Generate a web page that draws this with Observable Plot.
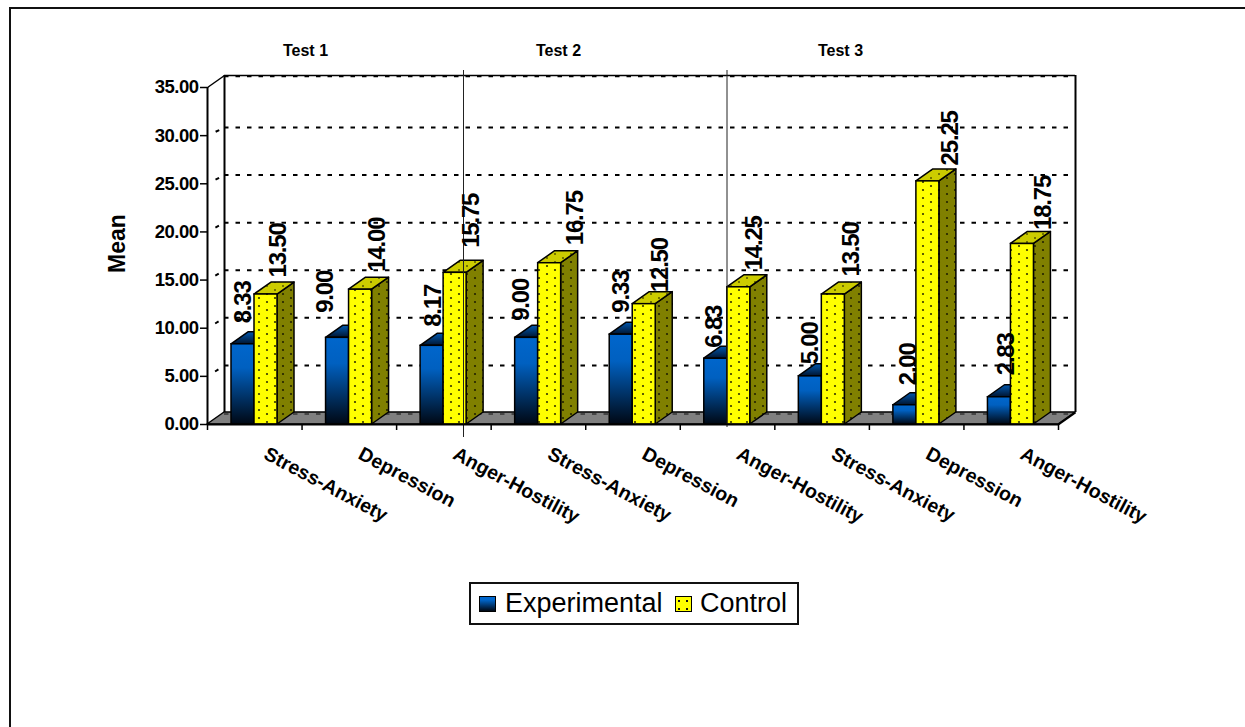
<!DOCTYPE html>
<html>
<head>
<meta charset="utf-8">
<script src="https://cdn.jsdelivr.net/npm/d3@7"></script>
<script src="https://cdn.jsdelivr.net/npm/@observablehq/plot@0.6"></script>
<style>
  html, body { margin: 0; padding: 0; background: #fff; }
  #page { position: relative; width: 1245px; height: 727px; overflow: hidden; font-family: "Liberation Sans", Arial, sans-serif; }
  #frame { position: absolute; left: 9px; top: 7px; right: -4px; bottom: -4px; border-left: 2px solid #111; border-top: 2px solid #111; }
  #chart { position: absolute; left: 0; top: 0; }
  #chart svg { overflow: visible; background: none; }
  #chart .value-label text { letter-spacing: -1.2px; }
  #chart .y-axis text { letter-spacing: -0.5px; }
  #legend { position: absolute; left: 469px; top: 582px; width: 326px; height: 39px; border: 2px solid #111; background: #fff; font-size: 27px; line-height: 39px; color: #000; }
  #legend span { position: absolute; top: 0; white-space: nowrap; }
  #legend i { position: absolute; top: 12px; width: 15px; height: 14px; border: 1.5px solid #000; }
  #legend i.exp { left: 8px; background: linear-gradient(#0066cc 20%, #000814); }
  #legend i.ctl { left: 204px; background-color: #ffff00;
    background-image: radial-gradient(circle, #111 1.2px, transparent 1.5px); background-size: 8px 8px; background-position: -1px 0; }
</style>
</head>
<body>
<div id="page">
  <div id="frame"></div>
  <div id="chart"></div>
  <div id="legend">
    <i class="exp"></i><span style="left:34px">Experimental</span>
    <i class="ctl"></i><span style="left:229px">Control</span>
  </div>
</div>
<script>
// Subscale means by test and group
const categories = ["Stress-Anxiety", "Depression", "Anger-Hostility", "Stress-Anxiety", "Depression", "Anger-Hostility", "Stress-Anxiety", "Depression", "Anger-Hostility"];
const experimental = [8.33, 9.00, 8.17, 9.00, 9.33, 6.83, 5.00, 2.00, 2.83];
const control = [13.50, 14.00, 15.75, 16.75, 12.50, 14.25, 13.50, 25.25, 18.75];
const tests = ["Test 1", "Test 2", "Test 3"];
const yTicks = [0, 5, 10, 15, 20, 25, 30, 35];
const gridValues = [0, 5, 10, 15, 20, 25, 30];

// Layout: one category is 851/9 px wide, one y unit is 337/35 px tall
const pxX = 851 / 9, pxY = 337 / 35;
const depthX = 17 / pxX, depthY = 12 / pxY;
const barW = 23 / pxX, barStart = 24 / pxX;
const wallTop = 35 + depthY;
// The back wall's grid sits a little short of the full depth as it climbs
const gridLift = v => 1.2 - 0.012 * v;

// Hand-placed value labels: px from the category's left edge, px above the bar top
const expLabelX = [36, 23.4, 36.9, 30.3, 35.8, 34.2, 35.6, 39.1, 42.5];
const ctlLabelX = [71, 75.4, 74.9, 84.3, 74.8, 74.2, 76.6, 81.1, 79.5];
const expLabelGap = [21, 25, 19, 17, 22, 11, 12, 20, 22];
const ctlLabelGap = [17, 18, 25, 18, 12, 17, 18, 16, 14];

const bars = (values, start) => values.map((v, i) => ({v, i, a: i + start, b: i + start + barW}));
const expBars = bars(experimental, barStart);
const ctlBars = bars(control, barStart + barW);

// Parallelogram faces, as two-point areas grouped by z
const topFace = rows => rows.flatMap(r => [
  {z: r.i, x1: r.a, y1: r.v, x2: r.a + depthX, y2: r.v + depthY},
  {z: r.i, x1: r.b, y1: r.v, x2: r.b + depthX, y2: r.v + depthY}
]);
const sideFace = rows => rows.flatMap(r => [
  {z: r.i, x1: r.b, y1: 0, x2: r.b, y2: r.v},
  {z: r.i, x1: r.b + depthX, y1: depthY, x2: r.b + depthX, y2: r.v + depthY}
]);
const floor = [
  {x1: 0, y1: 0, x2: depthX, y2: depthY},
  {x1: 9, y1: 0, x2: 9 + depthX, y2: depthY}
];
const faceOpts = (fill, extra = {}) => ({
  x1: "x1", y1: "y1", x2: "x2", y2: "y2", z: "z", fill,
  stroke: "#000", strokeWidth: 1.5, strokeLinejoin: "round", ...extra
});

const dotPattern = (id, bg, dot, r) => `
  <pattern id="${id}" patternUnits="userSpaceOnUse" width="16" height="8">
    <rect width="16" height="8" fill="${bg}"/>
    <circle cx="3" cy="2" r="${r}" fill="${dot}"/>
    <circle cx="11" cy="6" r="${r}" fill="${dot}"/>
  </pattern>`;

const defs = () => {
  const g = d3.create("svg:g");
  g.html(`<defs>
    <linearGradient id="blueFront" x1="0" y1="0" x2="0" y2="1">
      <stop offset="0" stop-color="#0066cc"/>
      <stop offset="0.3" stop-color="#0060c0"/>
      <stop offset="1" stop-color="#000814"/>
    </linearGradient>
    <linearGradient id="blueTop" x1="0" y1="0" x2="0" y2="1">
      <stop offset="0" stop-color="#0058b0"/>
      <stop offset="1" stop-color="#001530"/>
    </linearGradient>
    ${dotPattern("yellowFront", "#ffff00", "#333300", 1.1)}
    ${dotPattern("yellowSide", "#808000", "#222200", 1.1)}
    ${dotPattern("yellowTop", "#cccc00", "#555500", 1)}
  </defs>`);
  return g.node();
};

const valueLabels = (values, xs, gaps) => Plot.text(values, {
  x: (v, i) => i + xs[i] / pxX,
  y: (v, i) => v + gaps[i] / pxY,
  text: v => v.toFixed(2),
  rotate: -90,
  textAnchor: "start",
  lineAnchor: "middle",
  fontSize: 24,
  fontWeight: "bold",
  fill: "#000",
  className: "value-label"
});

const plot = Plot.plot({
  width: 1245,
  height: 727,
  marginTop: 87,
  marginBottom: 303,
  marginLeft: 207,
  marginRight: 187,
  style: {fontFamily: "'Liberation Sans', Arial, sans-serif", color: "#000", background: "none"},
  x: {type: "linear", domain: [0, 9]},
  y: {domain: [0, 35]},
  marks: [
    defs,
    // Back wall grid and outline
    Plot.ruleY(gridValues.filter(v => v > 0), {
      y: v => v + gridLift(v), x1: depthX, x2: 9 + depthX,
      stroke: "#000", strokeWidth: 2, strokeDasharray: "4.5 7"
    }),
    Plot.ruleY([wallTop], {x1: depthX, x2: 9 + depthX, stroke: "#000", strokeWidth: 1.5}),
    Plot.ruleY([wallTop - 0.1], {x1: depthX, x2: 9 + depthX, stroke: "#000", strokeWidth: 1.5, strokeDasharray: "4.5 7"}),
    Plot.ruleX([depthX], {y1: depthY, y2: wallTop, stroke: "#000", strokeWidth: 2}),
    Plot.ruleX([9 + depthX], {y1: depthY, y2: wallTop, stroke: "#000", strokeWidth: 2}),
    // Side wall: the top edge, and the short grid stubs
    Plot.link([35], {x1: 0, y1: v => v, x2: depthX, y2: v => v + depthY, stroke: "#000", strokeWidth: 1.5}),
    Plot.link(gridValues.filter(v => v > 0), {
      x1: 0, y1: v => v, x2: depthX, y2: v => v + gridLift(v),
      stroke: "#000", strokeWidth: 2, strokeDasharray: "0 9 4 99"
    }),
    // Floor
    Plot.area(floor, {x1: "x1", y1: "y1", x2: "x2", y2: "y2", fill: "#808080", stroke: "#000", strokeWidth: 1.5}),
    Plot.ruleY([gridLift(0) - 0.1], {x1: depthX, x2: 9 + depthX, stroke: "#333", strokeWidth: 1.5, strokeDasharray: "4.5 7"}),
    // Experimental bars
    Plot.area(topFace(expBars), faceOpts("url(#blueTop)")),
    Plot.rect(expBars, {x1: "a", x2: "b", y1: 0, y2: "v", fill: "url(#blueFront)", stroke: "#000", strokeWidth: 1.5}),
    // Control bars
    Plot.area(sideFace(ctlBars), faceOpts("url(#yellowSide)")),
    Plot.area(topFace(ctlBars), faceOpts("url(#yellowTop)")),
    Plot.rect(ctlBars, {x1: "a", x2: "b", y1: 0, y2: "v", fill: "url(#yellowFront)", stroke: "#000", strokeWidth: 1.5}),
    // Test dividers
    Plot.ruleX([{x: 256 / pxX, low: -13 / pxY}, {x: 519.5 / pxX, low: -3 / pxY}], {
      x: "x", y1: "low", y2: 354 / pxY, stroke: "#222", strokeWidth: 1
    }),
    // Axes
    Plot.ruleY([0], {stroke: "#000", strokeWidth: 2}),
    Plot.ruleX([0], {y1: 0, y2: 35, stroke: "#000", strokeWidth: 2}),
    Plot.link([0], {x1: 9, y1: 0, x2: 9 + depthX, y2: depthY, stroke: "#000", strokeWidth: 2}),
    Plot.axisY({
      ticks: yTicks, tickFormat: v => v.toFixed(2), tickSize: 7, tickPadding: 2,
      label: null, fontSize: 18.5, fontWeight: "bold", strokeWidth: 1.5, className: "y-axis"
    }),
    Plot.axisX({ticks: d3.range(10), tickFormat: () => "", tickSize: 6, label: null, strokeWidth: 1.5}),
    // Texts
    valueLabels(experimental, expLabelX, expLabelGap),
    valueLabels(control, ctlLabelX, ctlLabelGap),
    Plot.text(categories, {
      x: (d, i) => i + 58 / pxX, y: -28 / pxY, text: d => d,
      rotate: 28, textAnchor: "start", lineAnchor: "middle",
      fontSize: 19.5, fontWeight: "bold", fill: "#000"
    }),
    Plot.text(tests, {
      x: (d, i) => [98, 351, 633][i] / pxX, y: 374 / pxY, text: d => d,
      fontSize: 16, fontWeight: "bold", fill: "#000"
    }),
    Plot.text(["Mean"], {
      x: -90 / pxX, y: 181 / pxY, text: d => d, rotate: -90,
      fontSize: 23, fontWeight: "bold", fill: "#000"
    })
  ]
});
document.getElementById("chart").append(plot);
</script>
</body>
</html>
